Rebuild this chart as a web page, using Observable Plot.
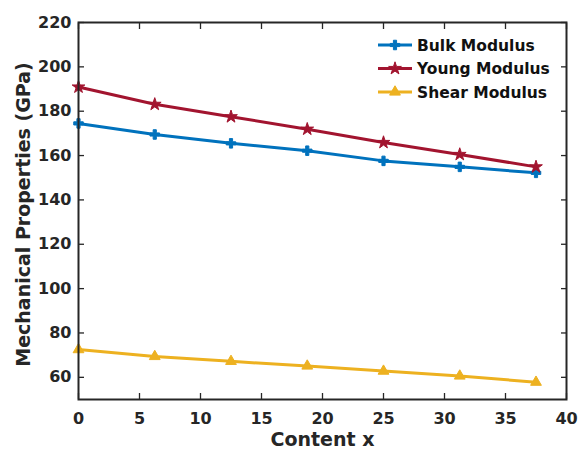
<!DOCTYPE html>
<html>
<head>
<meta charset="utf-8">
<script src="https://cdn.jsdelivr.net/npm/d3@7"></script>
<script src="https://cdn.jsdelivr.net/npm/@observablehq/plot@0.6"></script>
<style>
  html, body { margin: 0; padding: 0; background: #fff; }
  #chart { position: relative; width: 579px; height: 455px; }
</style>
</head>
<body>
<div id="chart"></div>
<script>
const contentX = [0, 6.25, 12.5, 18.75, 25, 31.25, 37.5];
const bulkModulus = [174.5, 169.5, 165.5, 162.2, 157.6, 154.9, 152.2];
const youngModulus = [190.9, 183.1, 177.5, 171.9, 165.9, 160.5, 154.9];
const shearModulus = [72.5, 69.4, 67.2, 65.1, 62.8, 60.6, 57.8];
const seriesNames = ["Bulk Modulus", "Young Modulus", "Shear Modulus"];
const seriesColors = ["#0072BD", "#A2142F", "#EDB120"];
const seriesSymbols = ["cross", "star", "triangle"];
const xTicks = [0, 5, 10, 15, 20, 25, 30, 35, 40];
const yTicks = [60, 80, 100, 120, 140, 160, 180, 200, 220];

const seriesValues = [bulkModulus, youngModulus, shearModulus];
const data = seriesNames.flatMap((name, s) =>
  contentX.map((x, i) => ({series: name, x, y: seriesValues[s][i]}))
);

const FONT = "'DejaVu Sans', sans-serif";
const axisColor = "#262626";

const plot = Plot.plot({
  width: 579,
  height: 455,
  marginLeft: 78,
  marginRight: 13,
  marginTop: 22,
  marginBottom: 56,
  style: {fontFamily: FONT, fontSize: "16px", fontWeight: "bold", color: axisColor, background: "#fff"},
  x: {domain: [0, 40], ticks: xTicks},
  y: {domain: [50, 220], ticks: yTicks},
  color: {domain: seriesNames, range: seriesColors},
  symbol: {domain: seriesNames, range: seriesSymbols},
  marks: [
    Plot.axisX({anchor: "bottom", ticks: xTicks, tickSize: -6, tickPadding: 19, strokeWidth: 1.3, label: null, fontSize: 16}),
    Plot.axisX({anchor: "top", ticks: xTicks, tickSize: -6, tickFormat: () => "", strokeWidth: 1.3, label: null}),
    Plot.axisY({anchor: "left", ticks: yTicks, tickSize: -6, tickPadding: 13, strokeWidth: 1.3, label: null, fontSize: 16}),
    Plot.axisY({anchor: "right", ticks: yTicks, tickSize: -6, tickFormat: () => "", strokeWidth: 1.3, label: null}),
    Plot.line(data, {x: "x", y: "y", z: "series", stroke: "series", strokeWidth: 3}),
    Plot.dot(data, {x: "x", y: "y", symbol: "series", fill: "series", stroke: "series", r: 4, strokeWidth: 1}),
    Plot.frame({stroke: axisColor, strokeWidth: 2}),
    Plot.text(["Content x"], {frameAnchor: "bottom", lineAnchor: "middle", dy: 40, fontSize: 19, fontWeight: "bold", fill: axisColor}),
    Plot.text(["Mechanical Properties (GPa)"], {frameAnchor: "left", textAnchor: "middle", lineAnchor: "middle", dx: -55, dy: 3.5, rotate: -90, fontSize: 19, fontWeight: "bold", fill: axisColor})
  ]
});

document.getElementById("chart").appendChild(plot);

// Legend inside top-right of the axes
const svg = d3.select(plot);
const legend = svg.append("g").attr("transform", "translate(378,45)").attr("text-anchor", "start");
seriesNames.forEach((name, i) => {
  const g = legend.append("g").attr("transform", `translate(0,${i * 23.5})`);
  g.append("line").attr("x1", 0).attr("x2", 34).attr("y1", 0).attr("y2", 0)
    .attr("stroke", seriesColors[i]).attr("stroke-width", 3);
  const sym = {cross: d3.symbolCross, star: d3.symbolStar, triangle: d3.symbolTriangle}[seriesSymbols[i]];
  g.append("path").attr("transform", "translate(17,0)")
    .attr("d", d3.symbol(sym, 4 * 4 * Math.PI)())
    .attr("fill", seriesColors[i]).attr("stroke", seriesColors[i]);
  g.append("text").attr("x", 39).attr("y", 0).attr("dy", "0.36em")
    .attr("text-anchor", "start")
    .attr("font-family", FONT).attr("font-weight", "bold").attr("font-size", 15.5)
    .attr("fill", "#111").text(name);
});
</script>
</body>
</html>
